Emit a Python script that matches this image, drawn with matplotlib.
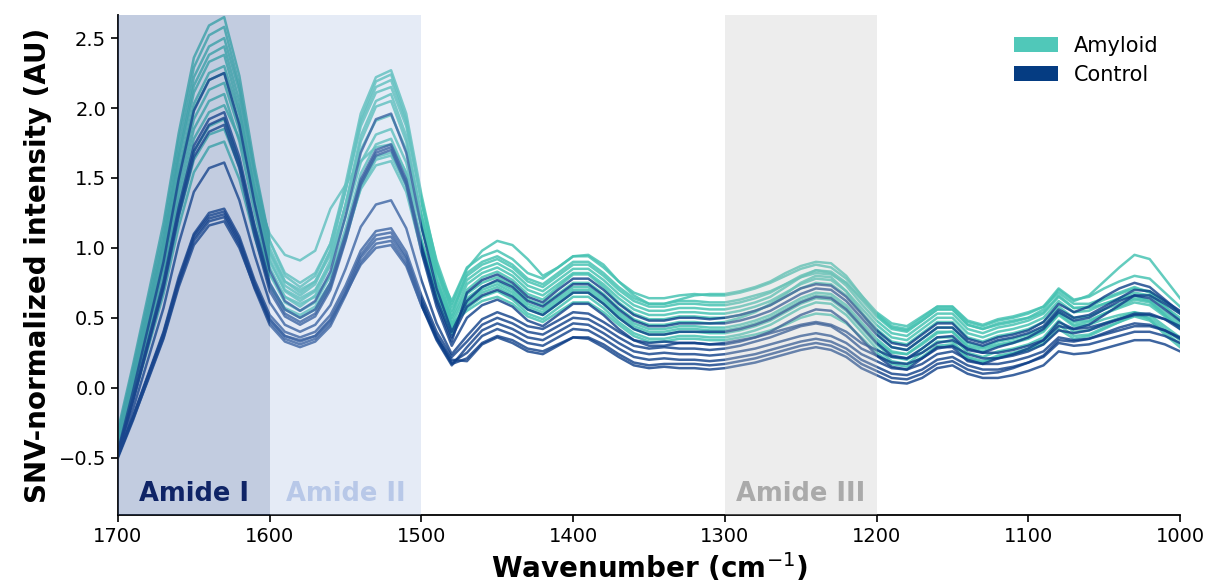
import matplotlib
matplotlib.use("Agg")
import matplotlib.pyplot as plt
from matplotlib.patches import Patch

# ---------------- data ----------------
wavenumber = [1700, 1690, 1680, 1670, 1660, 1650, 1640, 1630, 1620, 1610,
              1600, 1590, 1580, 1570, 1560, 1550, 1540, 1530, 1520, 1510,
              1500, 1490, 1480, 1470, 1460, 1450, 1440, 1430, 1420, 1410,
              1400, 1390, 1380, 1370, 1360, 1350, 1340, 1330, 1320, 1310,
              1300, 1290, 1280, 1270, 1260, 1250, 1240, 1230, 1220, 1210,
              1200, 1190, 1180, 1170, 1160, 1150, 1140, 1130, 1120, 1110,
              1100, 1090, 1080, 1070, 1060, 1050, 1040, 1030, 1020, 1010, 1000]

amyloid_01 = [-0.30, 0.17, 0.67, 1.18, 1.82, 2.36, 2.59, 2.65, 2.23, 1.59, 1.05, 0.80, 0.72, 0.80, 1.03, 1.46, 1.96, 2.22, 2.27, 1.96, 1.38, 0.89, 0.55,
              0.77, 0.85, 0.89, 0.83, 0.73, 0.69, 0.77, 0.85, 0.85, 0.77, 0.67, 0.59, 0.55, 0.55, 0.57, 0.57, 0.56, 0.56, 0.58, 0.61, 0.65, 0.72, 0.79, 0.84,
              0.82, 0.73, 0.60, 0.48, 0.39, 0.37, 0.45, 0.53, 0.53, 0.42, 0.39, 0.43, 0.45, 0.48, 0.53, 0.65, 0.57, 0.58, 0.63, 0.67, 0.71, 0.69, 0.61, 0.53]
amyloid_02 = [-0.33, 0.14, 0.63, 1.13, 1.77, 2.29, 2.52, 2.58, 2.16, 1.54, 1.00, 0.76, 0.68, 0.76, 0.98, 1.41, 1.90, 2.15, 2.20, 1.90, 1.33, 0.86, 0.52,
              0.82, 0.90, 0.94, 0.88, 0.78, 0.74, 0.82, 0.90, 0.90, 0.82, 0.72, 0.64, 0.60, 0.60, 0.62, 0.62, 0.61, 0.61, 0.63, 0.66, 0.69, 0.74, 0.79, 0.82,
              0.81, 0.75, 0.64, 0.53, 0.44, 0.42, 0.50, 0.58, 0.58, 0.47, 0.44, 0.48, 0.50, 0.53, 0.58, 0.71, 0.63, 0.65, 0.71, 0.76, 0.80, 0.78, 0.68, 0.58]
amyloid_03 = [-0.35, 0.11, 0.59, 1.08, 1.70, 2.22, 2.44, 2.50, 2.12, 1.54, 1.05, 0.82, 0.75, 0.82, 1.03, 1.42, 1.87, 2.11, 2.15, 1.87, 1.34, 0.91, 0.60,
              0.85, 0.98, 1.05, 1.02, 0.92, 0.80, 0.86, 0.94, 0.95, 0.88, 0.76, 0.66, 0.60, 0.60, 0.63, 0.66, 0.67, 0.67, 0.69, 0.72, 0.76, 0.82, 0.87, 0.90,
              0.89, 0.80, 0.66, 0.52, 0.43, 0.41, 0.48, 0.56, 0.56, 0.45, 0.42, 0.45, 0.47, 0.50, 0.56, 0.70, 0.62, 0.66, 0.76, 0.86, 0.95, 0.92, 0.78, 0.64]
amyloid_04 = [-0.36, 0.09, 0.56, 1.04, 1.66, 2.16, 2.38, 2.44, 2.05, 1.46, 0.96, 0.73, 0.66, 0.74, 0.98, 1.42, 1.92, 2.19, 2.24, 1.92, 1.33, 0.83, 0.48,
              0.70, 0.79, 0.83, 0.77, 0.67, 0.63, 0.72, 0.81, 0.81, 0.72, 0.61, 0.53, 0.49, 0.49, 0.51, 0.51, 0.50, 0.50, 0.52, 0.55, 0.59, 0.65, 0.71, 0.75,
              0.74, 0.66, 0.54, 0.42, 0.33, 0.31, 0.39, 0.47, 0.47, 0.36, 0.33, 0.37, 0.39, 0.42, 0.47, 0.58, 0.50, 0.51, 0.56, 0.60, 0.64, 0.62, 0.54, 0.46]
amyloid_05 = [-0.34, 0.10, 0.56, 1.02, 1.62, 2.11, 2.33, 2.38, 1.99, 1.41, 0.92, 0.69, 0.62, 0.69, 0.91, 1.31, 1.76, 2.01, 2.05, 1.76, 1.22, 0.77, 0.45,
              0.67, 0.75, 0.79, 0.73, 0.63, 0.59, 0.67, 0.75, 0.75, 0.67, 0.57, 0.49, 0.45, 0.45, 0.47, 0.47, 0.46, 0.47, 0.50, 0.54, 0.60, 0.67, 0.75, 0.80,
              0.79, 0.69, 0.54, 0.39, 0.29, 0.27, 0.35, 0.43, 0.43, 0.32, 0.29, 0.33, 0.35, 0.38, 0.43, 0.55, 0.47, 0.48, 0.53, 0.57, 0.61, 0.59, 0.51, 0.43]
amyloid_06 = [-0.38, 0.05, 0.50, 0.96, 1.55, 2.03, 2.25, 2.30, 1.95, 1.42, 0.97, 0.76, 0.70, 0.76, 0.95, 1.30, 1.70, 1.91, 1.95, 1.70, 1.24, 0.85, 0.58,
              0.80, 0.88, 0.92, 0.86, 0.76, 0.72, 0.80, 0.88, 0.88, 0.80, 0.70, 0.62, 0.58, 0.58, 0.60, 0.60, 0.59, 0.59, 0.61, 0.64, 0.68, 0.74, 0.80, 0.84,
              0.83, 0.75, 0.63, 0.51, 0.42, 0.40, 0.48, 0.56, 0.56, 0.45, 0.42, 0.46, 0.48, 0.50, 0.54, 0.66, 0.57, 0.57, 0.60, 0.63, 0.66, 0.62, 0.52, 0.42]
amyloid_07 = [-0.37, 0.05, 0.50, 0.94, 1.52, 1.99, 2.20, 2.25, 1.88, 1.33, 0.86, 0.65, 0.58, 0.66, 0.88, 1.31, 1.80, 2.05, 2.10, 1.80, 1.23, 0.76, 0.42,
              0.62, 0.70, 0.74, 0.68, 0.58, 0.54, 0.62, 0.70, 0.70, 0.62, 0.52, 0.44, 0.40, 0.40, 0.42, 0.42, 0.41, 0.41, 0.43, 0.46, 0.50, 0.56, 0.62, 0.66,
              0.65, 0.57, 0.45, 0.33, 0.25, 0.24, 0.31, 0.39, 0.40, 0.30, 0.28, 0.31, 0.33, 0.36, 0.41, 0.53, 0.45, 0.47, 0.53, 0.58, 0.63, 0.61, 0.52, 0.44]
amyloid_08 = [-0.40, 0.01, 0.45, 0.89, 1.46, 1.92, 2.13, 2.18, 1.84, 1.33, 0.90, 0.70, 0.64, 0.70, 0.88, 1.22, 1.61, 1.81, 1.85, 1.61, 1.15, 0.77, 0.50,
              0.74, 0.82, 0.86, 0.80, 0.70, 0.66, 0.74, 0.82, 0.82, 0.74, 0.64, 0.56, 0.52, 0.52, 0.54, 0.54, 0.53, 0.53, 0.55, 0.58, 0.62, 0.68, 0.74, 0.78,
              0.77, 0.69, 0.57, 0.45, 0.36, 0.34, 0.42, 0.50, 0.50, 0.39, 0.36, 0.40, 0.42, 0.45, 0.50, 0.62, 0.54, 0.55, 0.60, 0.64, 0.68, 0.66, 0.58, 0.50]
amyloid_09 = [-0.39, 0.01, 0.43, 0.86, 1.40, 1.85, 2.05, 2.10, 1.76, 1.25, 0.81, 0.61, 0.55, 0.61, 0.80, 1.14, 1.53, 1.74, 1.78, 1.53, 1.06, 0.68, 0.40,
              0.60, 0.68, 0.72, 0.66, 0.56, 0.52, 0.60, 0.68, 0.68, 0.60, 0.50, 0.42, 0.38, 0.38, 0.40, 0.40, 0.39, 0.39, 0.41, 0.44, 0.48, 0.54, 0.60, 0.64,
              0.63, 0.55, 0.43, 0.31, 0.22, 0.20, 0.28, 0.36, 0.36, 0.25, 0.22, 0.26, 0.28, 0.31, 0.36, 0.48, 0.40, 0.41, 0.46, 0.50, 0.54, 0.52, 0.44, 0.36]
amyloid_10 = [-0.41, -0.02, 0.39, 0.81, 1.34, 1.78, 1.97, 2.02, 1.78, 1.41, 1.10, 0.95, 0.91, 0.98, 1.28, 1.45, 1.62, 1.72, 1.74, 1.54, 1.16, 0.84, 0.62,
              0.86, 0.94, 0.98, 0.92, 0.82, 0.78, 0.86, 0.94, 0.94, 0.86, 0.76, 0.68, 0.64, 0.64, 0.66, 0.67, 0.66, 0.66, 0.68, 0.71, 0.75, 0.80, 0.85, 0.88,
              0.86, 0.78, 0.66, 0.54, 0.46, 0.44, 0.51, 0.58, 0.58, 0.48, 0.45, 0.49, 0.51, 0.54, 0.58, 0.68, 0.60, 0.60, 0.64, 0.68, 0.72, 0.68, 0.58, 0.48]
amyloid_11 = [-0.42, -0.05, 0.35, 0.75, 1.27, 1.69, 1.87, 1.92, 1.61, 1.14, 0.74, 0.56, 0.50, 0.56, 0.73, 1.06, 1.43, 1.63, 1.66, 1.44, 1.03, 0.68, 0.44,
              0.57, 0.65, 0.69, 0.63, 0.53, 0.49, 0.57, 0.65, 0.65, 0.57, 0.47, 0.39, 0.35, 0.35, 0.37, 0.37, 0.36, 0.36, 0.38, 0.41, 0.45, 0.51, 0.57, 0.61,
              0.60, 0.52, 0.40, 0.28, 0.19, 0.17, 0.25, 0.33, 0.33, 0.22, 0.19, 0.23, 0.25, 0.28, 0.33, 0.45, 0.37, 0.38, 0.43, 0.47, 0.51, 0.48, 0.40, 0.31]
amyloid_12 = [-0.40, -0.04, 0.34, 0.73, 1.22, 1.63, 1.81, 1.85, 1.58, 1.16, 0.81, 0.65, 0.60, 0.65, 0.80, 1.09, 1.42, 1.59, 1.62, 1.40, 0.98, 0.63, 0.38,
              0.64, 0.72, 0.76, 0.70, 0.60, 0.56, 0.64, 0.72, 0.72, 0.64, 0.54, 0.46, 0.42, 0.42, 0.44, 0.44, 0.43, 0.43, 0.45, 0.48, 0.52, 0.58, 0.64, 0.68,
              0.67, 0.59, 0.47, 0.35, 0.26, 0.24, 0.32, 0.40, 0.40, 0.29, 0.26, 0.30, 0.32, 0.35, 0.40, 0.52, 0.44, 0.45, 0.49, 0.52, 0.54, 0.49, 0.38, 0.29]
amyloid_13 = [-0.43, -0.08, 0.29, 0.67, 1.15, 1.54, 1.72, 1.76, 1.49, 1.08, 0.73, 0.57, 0.52, 0.58, 0.75, 1.08, 1.45, 1.65, 1.68, 1.46, 1.05, 0.70, 0.46,
              0.55, 0.62, 0.65, 0.60, 0.51, 0.47, 0.54, 0.61, 0.61, 0.54, 0.45, 0.37, 0.33, 0.33, 0.35, 0.35, 0.34, 0.34, 0.36, 0.38, 0.41, 0.45, 0.50, 0.53,
              0.52, 0.46, 0.36, 0.25, 0.17, 0.15, 0.22, 0.30, 0.31, 0.21, 0.18, 0.22, 0.24, 0.27, 0.31, 0.42, 0.35, 0.37, 0.42, 0.47, 0.52, 0.50, 0.42, 0.34]

control_01 = [-0.45, -0.02, 0.44, 0.90, 1.49, 1.98, 2.20, 2.25, 1.88, 1.32, 0.84, 0.62, 0.55, 0.62, 0.83, 1.23, 1.68, 1.92, 1.96, 1.68, 1.15, 0.71, 0.40,
              0.62, 0.72, 0.77, 0.72, 0.62, 0.58, 0.66, 0.74, 0.74, 0.66, 0.56, 0.48, 0.44, 0.44, 0.46, 0.46, 0.46, 0.46, 0.48, 0.51, 0.55, 0.61, 0.67, 0.71,
              0.70, 0.62, 0.50, 0.38, 0.29, 0.27, 0.35, 0.43, 0.43, 0.33, 0.30, 0.34, 0.36, 0.39, 0.44, 0.56, 0.50, 0.52, 0.58, 0.64, 0.70, 0.69, 0.62, 0.55]
control_02 = [-0.46, -0.07, 0.34, 0.76, 1.29, 1.73, 1.92, 1.97, 1.65, 1.16, 0.75, 0.56, 0.50, 0.56, 0.75, 1.10, 1.49, 1.70, 1.74, 1.49, 1.02, 0.64, 0.36,
              0.58, 0.66, 0.70, 0.65, 0.56, 0.52, 0.60, 0.68, 0.68, 0.60, 0.50, 0.42, 0.38, 0.38, 0.40, 0.40, 0.40, 0.40, 0.42, 0.45, 0.49, 0.55, 0.61, 0.65,
              0.64, 0.56, 0.44, 0.32, 0.23, 0.21, 0.28, 0.36, 0.37, 0.27, 0.25, 0.29, 0.32, 0.36, 0.42, 0.54, 0.48, 0.50, 0.56, 0.62, 0.66, 0.64, 0.56, 0.48]
control_03 = [-0.47, -0.09, 0.32, 0.73, 1.26, 1.69, 1.88, 1.93, 1.61, 1.13, 0.72, 0.53, 0.47, 0.53, 0.72, 1.07, 1.47, 1.68, 1.72, 1.47, 1.00, 0.61, 0.33,
              0.68, 0.77, 0.81, 0.75, 0.65, 0.61, 0.70, 0.78, 0.78, 0.70, 0.60, 0.52, 0.48, 0.48, 0.50, 0.50, 0.49, 0.50, 0.52, 0.55, 0.59, 0.65, 0.71, 0.74,
              0.73, 0.65, 0.53, 0.41, 0.32, 0.30, 0.38, 0.46, 0.46, 0.35, 0.32, 0.36, 0.38, 0.41, 0.47, 0.60, 0.54, 0.58, 0.65, 0.71, 0.75, 0.72, 0.63, 0.54]
control_04 = [-0.46, -0.09, 0.31, 0.71, 1.23, 1.65, 1.83, 1.88, 1.57, 1.09, 0.69, 0.51, 0.45, 0.51, 0.70, 1.05, 1.45, 1.66, 1.70, 1.45, 0.97, 0.58, 0.30,
              0.50, 0.59, 0.63, 0.58, 0.48, 0.44, 0.52, 0.60, 0.60, 0.52, 0.42, 0.34, 0.30, 0.30, 0.32, 0.32, 0.31, 0.31, 0.33, 0.36, 0.40, 0.46, 0.52, 0.56,
              0.55, 0.47, 0.35, 0.23, 0.15, 0.13, 0.21, 0.29, 0.29, 0.19, 0.17, 0.21, 0.24, 0.28, 0.34, 0.47, 0.42, 0.45, 0.52, 0.59, 0.66, 0.66, 0.60, 0.53]
control_05 = [-0.48, -0.15, 0.21, 0.57, 1.03, 1.40, 1.57, 1.61, 1.34, 0.95, 0.61, 0.45, 0.40, 0.45, 0.59, 0.85, 1.15, 1.31, 1.34, 1.14, 0.77, 0.46, 0.24,
              0.37, 0.49, 0.54, 0.50, 0.44, 0.42, 0.48, 0.54, 0.53, 0.47, 0.40, 0.34, 0.32, 0.33, 0.32, 0.32, 0.31, 0.32, 0.34, 0.36, 0.39, 0.42, 0.45, 0.47,
              0.45, 0.40, 0.32, 0.27, 0.22, 0.21, 0.25, 0.32, 0.34, 0.28, 0.25, 0.25, 0.27, 0.30, 0.34, 0.44, 0.42, 0.43, 0.46, 0.49, 0.52, 0.52, 0.49, 0.44]
control_06 = [-0.48, -0.20, 0.10, 0.40, 0.79, 1.10, 1.25, 1.28, 1.08, 0.77, 0.52, 0.40, 0.36, 0.40, 0.52, 0.73, 0.98, 1.12, 1.14, 0.97, 0.66, 0.40, 0.22,
              0.33, 0.45, 0.50, 0.46, 0.40, 0.38, 0.44, 0.50, 0.49, 0.43, 0.36, 0.30, 0.28, 0.29, 0.28, 0.28, 0.27, 0.28, 0.30, 0.33, 0.36, 0.40, 0.44, 0.46,
              0.44, 0.37, 0.28, 0.23, 0.18, 0.17, 0.21, 0.28, 0.30, 0.24, 0.21, 0.21, 0.23, 0.26, 0.31, 0.41, 0.39, 0.41, 0.45, 0.49, 0.53, 0.53, 0.49, 0.42]
control_07 = [-0.49, -0.21, 0.09, 0.39, 0.77, 1.09, 1.23, 1.26, 1.06, 0.75, 0.49, 0.37, 0.33, 0.37, 0.49, 0.70, 0.95, 1.09, 1.11, 0.94, 0.63, 0.37, 0.18,
              0.25, 0.37, 0.42, 0.38, 0.32, 0.30, 0.36, 0.42, 0.41, 0.35, 0.28, 0.22, 0.20, 0.21, 0.20, 0.20, 0.19, 0.20, 0.22, 0.24, 0.27, 0.30, 0.33, 0.35,
              0.33, 0.28, 0.20, 0.15, 0.10, 0.09, 0.13, 0.20, 0.22, 0.16, 0.13, 0.13, 0.15, 0.18, 0.22, 0.32, 0.30, 0.31, 0.34, 0.37, 0.40, 0.40, 0.37, 0.32]
control_08 = [-0.48, -0.21, 0.09, 0.38, 0.76, 1.07, 1.21, 1.24, 1.04, 0.73, 0.47, 0.35, 0.31, 0.35, 0.46, 0.68, 0.93, 1.06, 1.08, 0.92, 0.61, 0.35, 0.17,
              0.21, 0.32, 0.37, 0.34, 0.28, 0.26, 0.31, 0.36, 0.36, 0.31, 0.24, 0.18, 0.16, 0.17, 0.17, 0.17, 0.16, 0.17, 0.19, 0.21, 0.24, 0.27, 0.30, 0.32,
              0.30, 0.25, 0.17, 0.12, 0.07, 0.06, 0.10, 0.17, 0.19, 0.13, 0.10, 0.11, 0.14, 0.18, 0.23, 0.34, 0.33, 0.35, 0.39, 0.43, 0.46, 0.45, 0.41, 0.35]
control_09 = [-0.50, -0.23, 0.07, 0.36, 0.74, 1.05, 1.19, 1.22, 1.02, 0.71, 0.45, 0.33, 0.29, 0.33, 0.44, 0.66, 0.90, 1.03, 1.05, 0.89, 0.59, 0.34, 0.16,
              0.29, 0.41, 0.46, 0.42, 0.36, 0.34, 0.40, 0.46, 0.45, 0.39, 0.32, 0.26, 0.24, 0.25, 0.24, 0.24, 0.23, 0.24, 0.26, 0.28, 0.31, 0.34, 0.37, 0.39,
              0.37, 0.32, 0.24, 0.19, 0.14, 0.13, 0.17, 0.24, 0.26, 0.20, 0.17, 0.17, 0.19, 0.22, 0.26, 0.36, 0.34, 0.35, 0.38, 0.41, 0.44, 0.44, 0.41, 0.36]
control_10 = [-0.49, -0.22, 0.06, 0.35, 0.72, 1.02, 1.16, 1.19, 1.00, 0.72, 0.49, 0.37, 0.34, 0.37, 0.48, 0.67, 0.88, 1.00, 1.02, 0.87, 0.59, 0.36, 0.20,
              0.19, 0.31, 0.36, 0.32, 0.26, 0.24, 0.30, 0.36, 0.35, 0.29, 0.22, 0.16, 0.14, 0.15, 0.14, 0.14, 0.13, 0.14, 0.16, 0.18, 0.21, 0.24, 0.27, 0.29,
              0.27, 0.22, 0.14, 0.09, 0.04, 0.03, 0.07, 0.14, 0.16, 0.10, 0.07, 0.07, 0.09, 0.12, 0.16, 0.26, 0.24, 0.25, 0.28, 0.31, 0.34, 0.34, 0.31, 0.26]

amyloid_spectra = [amyloid_01, amyloid_02, amyloid_03, amyloid_04, amyloid_05, amyloid_06, amyloid_07,
                   amyloid_08, amyloid_09, amyloid_10, amyloid_11, amyloid_12, amyloid_13]
control_spectra = [control_01, control_02, control_03, control_04, control_05, control_06, control_07,
                   control_08, control_09, control_10]

group_labels = ["Amyloid", "Control"]
region_names = ["Amide I", "Amide II", "Amide III"]
region_bounds = [(1700, 1600), (1600, 1500), (1300, 1200)]
x_ticks = [1700, 1600, 1500, 1400, 1300, 1200, 1100, 1000]
y_ticks = [-0.5, 0.0, 0.5, 1.0, 1.5, 2.0, 2.5]

# ---------------- style ----------------
AMY_LINE = "#48c3b3"
CTRL_LINE = "#0e3f88"
AMY_LEG = "#50c8b9"
CTRL_LEG = "#053c82"
region_fill = ["#37589b", "#acc0e4", "#c6c6c6"]
region_text = ["#0f2466", "#b8c8e8", "#aaaaaa"]

fig = plt.figure(figsize=(12.08, 5.88), dpi=100)
ax = fig.add_axes([118 / 1208, 1 - 515 / 588, (1180 - 118) / 1208, (515 - 15) / 588])

for s in amyloid_spectra:
    ax.plot(wavenumber, s, color=AMY_LINE, lw=1.8, alpha=0.85, zorder=2, solid_joinstyle="round")
for s in control_spectra:
    ax.plot(wavenumber, s, color=CTRL_LINE, lw=1.8, alpha=0.8, zorder=2.1, solid_joinstyle="round")

for (x0, x1), fc, tc, name in zip(region_bounds, region_fill, region_text, region_names):
    ax.axvspan(x0, x1, color=fc, alpha=0.3, lw=0, zorder=3)
    ax.text((x0 + x1) / 2, -0.76, name, color=tc, fontsize=18.5, fontweight="bold",
            ha="center", va="center", zorder=4)

ax.set_xlim(1700, 1000)
ax.set_ylim(-0.91, 2.665)
ax.set_xticks(x_ticks)
ax.set_yticks(y_ticks)
ax.tick_params(labelsize=14, width=1.2, length=5, color="black")
for side in ["top", "right"]:
    ax.spines[side].set_visible(False)
for side in ["left", "bottom"]:
    ax.spines[side].set_linewidth(1.3)

ax.set_xlabel("Wavenumber (cm$^{-1}$)", fontsize=20, fontweight="bold", labelpad=4)
ax.set_ylabel("SNV-normalized intensity (AU)", fontsize=20, fontweight="bold", labelpad=5)

handles = [Patch(facecolor=AMY_LEG, edgecolor="none"), Patch(facecolor=CTRL_LEG, edgecolor="none")]
ax.legend(handles, group_labels, loc="upper right", frameon=False, fontsize=15,
          handlelength=2.1, handleheight=0.72, handletextpad=0.75, labelspacing=0.45,
          bbox_to_anchor=(0.997, 0.996))

fig.savefig("out.png", dpi=100)
